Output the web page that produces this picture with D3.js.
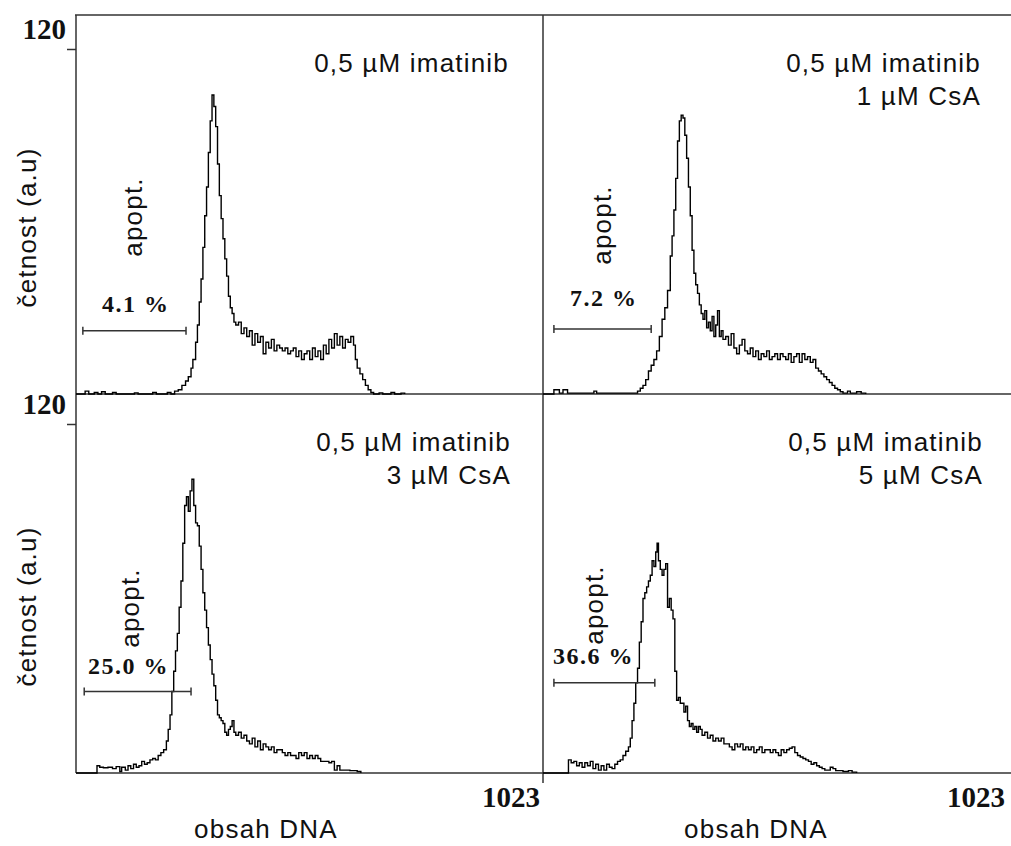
<!DOCTYPE html>
<html>
<head>
<meta charset="utf-8">
<script src="https://cdn.jsdelivr.net/npm/d3@7"></script>
<style>
  html, body { margin: 0; padding: 0; background: #fff; }
  svg { display: block; }
</style>
</head>
<body>
<svg id="chart" width="1011" height="846"></svg>
<script>
// DNA content histograms: [channel, count]
const histA = [[0,0],[16,0],[20,1],[28,0],[40,0.5],[48,0],[56,0.8],[64,0],[80,0.5],[88,0],[128,0.4],[136,0],[168,0.5],[176,0],[200,0.5],[208,0],[216,1],[224,1.5],[232,3],[240,4.5],[246,6],[252,9],[256,12],[262,18],[266,24],[270,32],[274,40],[278,51],[282,62],[286,72],[290,84],[294,95],[298,104],[302,100],[306,93],[310,80],[314,69],[318,61],[322,54],[326,47],[330,41],[334,34],[338,30],[342,28],[346,25],[350,24],[356,25],[362,21],[368,23],[374,20],[380,22],[386,17],[392,21],[398,18],[404,20],[410,14],[416,18],[422,16],[428,19],[434,15],[440,17],[446,16],[452,15],[458,16],[464,14],[470,15],[476,16],[482,13],[488,15],[494,12],[500,14],[506,15],[512,12],[518,16],[524,13],[530,15],[536,12],[542,17],[548,14],[554,19],[560,16],[566,21],[572,17],[578,20],[584,16],[590,19],[596,18],[602,20],[608,17],[612,12],[616,9],[622,7],[628,5],[634,3],[640,1.5],[646,0.5],[652,0],[664,0.4],[672,0],[690,0.5],[698,0],[712,0.3],[720,0]];

const histB = [[0,0],[12,0],[24,1.5],[36,0.3],[44,1.5],[54,0.3],[70,0.3],[80,0.3],[90,0.3],[100,0.3],[112,1],[118,0.3],[140,0.3],[160,0.3],[180,0.3],[200,0.3],[208,1],[214,2],[220,3],[226,5],[232,8],[238,10],[244,12],[250,15],[256,20],[262,26],[268,30],[274,36],[280,48],[284,55],[288,64],[292,75],[296,88],[300,95],[304,97],[308,96],[312,90],[316,82],[320,72],[324,62],[328,50],[332,42],[336,38],[340,35],[344,31],[348,28],[352,26],[356,29],[360,23],[364,25],[368,22],[372,27],[376,20],[380,24],[384,29],[388,20],[392,22],[396,19],[402,20],[408,17],[414,21],[420,16],[426,14],[432,17],[438,19],[444,15],[450,14],[456,16],[462,13],[468,15],[474,12],[480,14],[486,13],[492,15],[498,12],[504,13],[510,14],[516,12],[522,14],[528,13],[534,12],[540,14],[546,11],[552,13],[558,14],[564,11],[570,14],[576,12],[582,13],[588,11],[594,12],[600,9],[606,8],[612,7],[618,6],[624,5],[630,4],[636,3],[642,2],[648,1.5],[654,0.8],[660,0.3],[670,1],[676,0.3],[690,0.8],[700,0.3],[710,0]];

const histC = [[0,0],[44,0],[46,2.5],[52,2],[60,1.8],[70,2],[80,1.5],[88,2.2],[96,0.5],[100,2],[108,1],[114,2.5],[120,1.5],[126,3],[132,2],[138,2.5],[144,4],[150,3],[156,3.5],[162,4.5],[168,5],[174,4.5],[180,6],[186,7],[192,8],[198,11],[202,15],[206,20],[210,28],[214,35],[218,42],[222,48],[226,57],[230,66],[234,79],[238,92],[242,95],[246,90],[250,97],[254,101],[258,92],[262,86],[266,85],[270,78],[274,70],[278,62],[282,56],[286,50],[290,44],[294,39],[298,34],[302,30],[306,25],[310,20],[314,19],[318,18],[322,17],[326,14],[330,13],[334,15],[338,16],[342,18],[346,14],[350,13],[356,14],[362,12],[368,13],[374,11],[380,10],[386,12],[392,9],[398,11],[404,8],[410,10],[416,9],[422,8],[428,9],[434,7],[440,8],[446,8],[452,7],[458,6],[464,7],[470,6],[476,6],[482,5],[488,7],[494,6],[500,7],[506,5],[512,6],[518,5],[524,6],[530,5],[536,4],[542,4],[548,4],[554,3.5],[560,4],[566,1],[572,2.5],[578,1],[584,1],[590,1],[600,0.8],[616,0.5],[624,0]];

const histD = [[0,0],[54,0],[56,4.5],[62,3.5],[68,4],[74,2.5],[80,3.5],[86,2],[92,3.5],[98,2.5],[104,4],[110,1.5],[116,3],[122,1],[128,2.5],[134,1],[140,3],[146,2],[152,1.5],[158,3],[164,4],[170,4.5],[176,6],[182,7.5],[188,9],[192,12],[196,18],[200,24],[204,31],[208,36],[212,45],[216,52],[220,60],[224,62],[228,64],[232,66],[236,68],[240,73],[244,71],[248,76],[251,79],[254,73],[258,70],[262,68],[266,70],[270,72],[274,57],[278,60],[282,56],[286,53],[290,35],[294,25],[298,26],[302,24],[306,24],[310,21],[314,23],[318,18],[322,16],[326,17],[330,15],[334,16],[338,14],[342,16],[346,15],[350,13],[356,14],[362,12],[368,13],[374,11],[380,12],[386,11],[392,12],[398,10],[404,10],[410,9],[416,8],[422,10],[428,9],[434,10],[440,8],[446,9],[452,8],[458,9],[464,7],[470,8],[476,9],[482,7],[488,8],[494,8],[500,7],[506,8],[512,7],[518,6],[524,8],[530,7],[536,8],[542,8.5],[548,9],[554,7],[560,6],[566,5.5],[572,5],[578,4.5],[584,4],[590,3],[596,3.5],[602,2.5],[608,2],[614,1.5],[620,1],[626,1],[632,2],[638,1.5],[644,0.8],[650,0.8],[660,0.5],[672,0.8],[680,0.3],[690,0]];

// Treatment labels per panel
const titles = [
  ["0,5 µM imatinib"],
  ["0,5 µM imatinib", "1 µM CsA"],
  ["0,5 µM imatinib", "3 µM CsA"],
  ["0,5 µM imatinib", "5 µM CsA"]
];
// Apoptotic (sub-G1) fraction and its gate, in channels
const apoptPercent = ["4.1 %", "7.2 %", "25.0 %", "36.6 %"];
const apoptGate = [[15, 241], [24, 238], [18, 252], [24, 246]];
const gateLevel = [22, 22.6, 28, 31];

const yTickValues = [120];
const xDomain = [0, 1023];
const xEndLabel = "1023";
const yTitle = "četnost (a.u)";
const xTitle = "obsah DNA";
const gateTitle = "apopt.";

// ---- layout ----
const sans = "'Liberation Sans', Arial, sans-serif";
const serif = "'Liberation Serif', 'Times New Roman', serif";
const frameColor = "#333";

const layout = [
  { hist: histA, xr: [76, 543],  yr: [394, 49],  top: 15,  titleX: 509, apopt: [142, 217], pct: [102, 312], left: true,  bottom: false },
  { hist: histB, xr: [543, 1008], yr: [394, 49],  top: 15,  titleX: 981, apopt: [611, 225], pct: [570, 306], left: false, bottom: false },
  { hist: histC, xr: [76, 543],  yr: [773, 424], top: 394, titleX: 511, apopt: [139, 608], pct: [88, 674],  left: true,  bottom: true },
  { hist: histD, xr: [543, 1008], yr: [773, 424], top: 394, titleX: 983, apopt: [603, 605], pct: [553, 664], left: false, bottom: true }
];

const svg = d3.select("#chart");

// Frame lines
const frame = svg.append("g").attr("stroke", frameColor).attr("stroke-width", 1.5).attr("fill", "none");
frame.append("line").attr("x1", 75).attr("x2", 1011).attr("y1", 15).attr("y2", 15);
frame.append("line").attr("x1", 76).attr("x2", 76).attr("y1", 15).attr("y2", 773);
frame.append("line").attr("x1", 543).attr("x2", 543).attr("y1", 15).attr("y2", 783);

layout.forEach((p, i) => {
  const x = d3.scaleLinear().domain(xDomain).range(p.xr);
  const y = d3.scaleLinear().domain([0, 120]).range(p.yr);
  const g = svg.append("g");

  // baseline (x axis)
  g.append("line")
    .attr("x1", p.xr[0]).attr("x2", p.left ? p.xr[1] : 1011)
    .attr("y1", y(0)).attr("y2", y(0))
    .attr("stroke", frameColor).attr("stroke-width", 1.5);

  // y tick at 120 on the left panels
  if (p.left) {
    const ax = g.append("g")
      .attr("transform", `translate(${p.xr[0]},0)`)
      .call(d3.axisLeft(y).tickValues(yTickValues).tickSize(9).tickFormat(""));
    ax.select(".domain").remove();
    ax.selectAll(".tick line").attr("stroke", frameColor).attr("stroke-width", 1.5);
    yTickValues.forEach(v => {
      g.append("text")
        .attr("x", p.xr[0] - 10).attr("y", y(v) - 10)
        .attr("text-anchor", "end")
        .attr("font-family", serif).attr("font-weight", "bold")
        .attr("font-size", 29).attr("fill", "#111")
        .text(String(v));
    });
    // y title
    g.append("text")
      .attr("transform", `translate(36,${(p.top + y(0)) / 2 + 23}) rotate(-90)`)
      .attr("text-anchor", "middle")
      .attr("font-family", sans).attr("font-size", 26)
      .attr("letter-spacing", 1.2).attr("fill", "#111")
      .text(yTitle);
  }

  // x end label and title on bottom panels
  if (p.bottom) {
    g.append("text")
      .attr("x", x(1023) - 3).attr("y", y(0) + 34)
      .attr("text-anchor", "end")
      .attr("font-family", serif).attr("font-weight", "bold")
      .attr("font-size", 29).attr("fill", "#111")
      .text(xEndLabel);
    g.append("text")
      .attr("x", p.left ? 266 : 756).attr("y", 838)
      .attr("text-anchor", "middle")
      .attr("font-family", sans).attr("font-size", 26)
      .attr("letter-spacing", 1.2).attr("fill", "#111")
      .text(xTitle);
  }

  // histogram trace
  const line = d3.line()
    .x(d => x(d[0])).y(d => y(d[1]))
    .curve(d3.curveStepAfter);
  g.append("path")
    .datum(p.hist)
    .attr("d", line)
    .attr("fill", "none")
    .attr("stroke", "#000")
    .attr("stroke-width", 1.4)
    .attr("stroke-linejoin", "miter");

  // treatment title
  titles[i].forEach((t, k) => {
    g.append("text")
      .attr("x", p.titleX).attr("y", p.top + 57 + k * 33)
      .attr("text-anchor", "end")
      .attr("font-family", sans).attr("font-size", 26)
      .attr("letter-spacing", 1.2).attr("fill", "#111")
      .text(t);
  });

  // apoptotic gate marker
  const gy = y(gateLevel[i]);
  const gx0 = x(apoptGate[i][0]), gx1 = x(apoptGate[i][1]);
  const gm = g.append("g").attr("stroke", "#333").attr("stroke-width", 1.5);
  gm.append("line").attr("x1", gx0).attr("x2", gx1).attr("y1", gy).attr("y2", gy);
  gm.append("line").attr("x1", gx0).attr("x2", gx0).attr("y1", gy - 4).attr("y2", gy + 4);
  gm.append("line").attr("x1", gx1).attr("x2", gx1).attr("y1", gy - 4).attr("y2", gy + 4);

  g.append("text")
    .attr("x", p.pct[0]).attr("y", p.pct[1])
    .attr("font-family", serif).attr("font-weight", "bold")
    .attr("font-size", 24).attr("letter-spacing", 1.5).attr("fill", "#111")
    .text(apoptPercent[i]);

  g.append("text")
    .attr("transform", `translate(${p.apopt[0]},${p.apopt[1]}) rotate(-90)`)
    .attr("text-anchor", "middle")
    .attr("font-family", sans).attr("font-size", 26)
    .attr("letter-spacing", 1.2).attr("fill", "#111")
    .text(gateTitle);
});
</script>
</body>
</html>
